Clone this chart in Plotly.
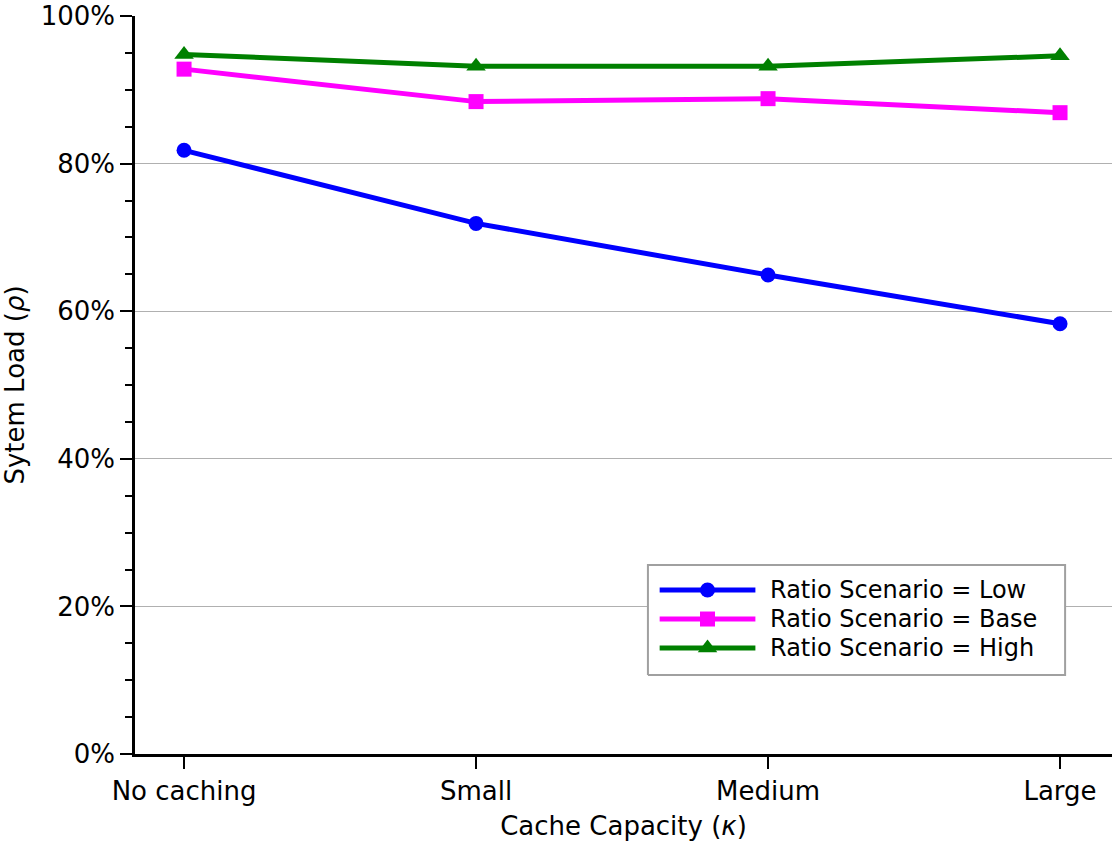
import plotly.graph_objects as go

# Cache capacity levels on the x axis
capacity = ["No caching", "Small", "Medium", "Large"]

# System load (%) per ratio scenario
load_low = [81.8, 71.9, 64.9, 58.3]
load_base = [92.8, 88.4, 88.8, 86.9]
load_high = [94.8, 93.2, 93.2, 94.6]

y_ticks = [0, 20, 40, 60, 80, 100]
y_tick_text = [f"{v}%" for v in y_ticks]

FONT = "DejaVu Sans, Verdana, sans-serif"

series = [
    ("Ratio Scenario = Low", load_low, "#0000ff", "circle", 15),
    ("Ratio Scenario = Base", load_base, "#ff00ff", "square", 15),
    ("Ratio Scenario = High", load_high, "#008000", "triangle-up", 17),
]

fig = go.Figure()
for name, vals, color, symbol, msize in series:
    fig.add_trace(go.Scatter(
        x=capacity, y=vals, name=name, mode="lines+markers",
        line=dict(color=color, width=5),
        marker=dict(color=color, symbol=symbol, size=msize, line=dict(width=0)),
        showlegend=False,
    ))

# Legend drawn in plot-area fractions on an overlaid, hidden axis pair
box_x0, box_x1, box_y0, box_y1 = 0.525, 0.952, 0.107, 0.256
sample_x0, sample_x1 = 0.537, 0.635
text_x = 0.648
row_y = [0.2222, 0.1829, 0.1436]

fig.add_trace(go.Scatter(
    x=[box_x0, box_x1, box_x1, box_x0, box_x0],
    y=[box_y0, box_y0, box_y1, box_y1, box_y0],
    mode="lines", fill="toself", fillcolor="white",
    line=dict(color="#a0a0a0", width=2),
    xaxis="x2", yaxis="y2", showlegend=False, hoverinfo="skip",
))
for (name, _, color, symbol, msize), ry in zip(series, row_y):
    fig.add_trace(go.Scatter(
        x=[sample_x0, (sample_x0 + sample_x1) / 2, sample_x1], y=[ry, ry, ry],
        mode="lines", line=dict(color=color, width=5),
        xaxis="x2", yaxis="y2", showlegend=False, hoverinfo="skip",
    ))
    fig.add_trace(go.Scatter(
        x=[(sample_x0 + sample_x1) / 2], y=[ry], mode="markers",
        marker=dict(color=color, symbol=symbol, size=msize, line=dict(width=0)),
        xaxis="x2", yaxis="y2", showlegend=False, hoverinfo="skip",
    ))
    fig.add_annotation(
        x=text_x, y=ry, xref="paper", yref="paper", text=name,
        showarrow=False, xanchor="left", yanchor="middle",
        font=dict(size=24, color="black"),
    )

fig.update_layout(
    width=1112, height=846,
    margin=dict(l=135, r=0, t=16, b=92),
    paper_bgcolor="white", plot_bgcolor="white",
    font=dict(family=FONT, size=26, color="black"),
    showlegend=False,
    xaxis=dict(
        type="category", range=[-0.168, 3.178],
        showgrid=False, showline=True, linecolor="black", linewidth=2.5,
        ticks="outside", ticklen=12, tickwidth=2, tickcolor="black",
        tickfont=dict(size=26),
        title=dict(text="Cache Capacity (<i>κ</i>)", font=dict(size=26), standoff=12),
        zeroline=False,
    ),
    yaxis=dict(
        range=[0, 100], tickmode="array", tickvals=y_ticks, ticktext=y_tick_text,
        showgrid=True, gridcolor="#b0b0b0", gridwidth=1,
        showline=True, linecolor="black", linewidth=2.5,
        ticks="outside", ticklen=12, tickwidth=2, tickcolor="black",
        tickfont=dict(size=26),
        minor=dict(dtick=5, ticks="outside", ticklen=7, tickwidth=2, tickcolor="black", showgrid=False),
        title=dict(text="Sytem Load (<i>ρ</i>)", font=dict(size=26), standoff=10),
        zeroline=False,
    ),
    xaxis2=dict(overlaying="x", range=[0, 1], visible=False, fixedrange=True),
    yaxis2=dict(overlaying="y", range=[0, 1], visible=False, fixedrange=True),
)

fig.write_html("out.html")
